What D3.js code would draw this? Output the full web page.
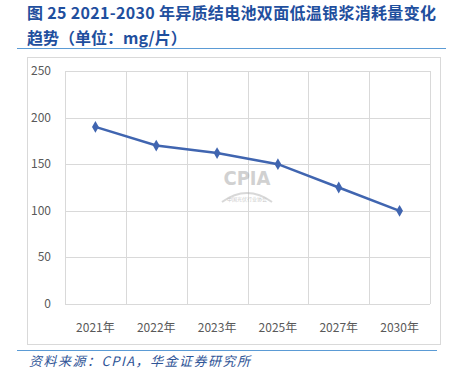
<!DOCTYPE html>
<html>
<head>
<meta charset="utf-8">
<script src="https://cdn.jsdelivr.net/npm/d3@7"></script>
<style>
  body { margin: 0; background: #fff; }
  svg { display: block; }
</style>
</head>
<body>
<div id="chart"></div>
<script>
// chart data
const years = ['2021年', '2022年', '2023年', '2025年', '2027年', '2030年'];
const silverUse = [190, 170, 162, 150, 125, 100];
const yTicks = [0, 50, 100, 150, 200, 250];

const W = 454, H = 369;
const svg = d3.select('#chart').append('svg')
  .attr('width', W)
  .attr('height', H);

const titleColor = '#1f4f9e';
const cjk = '"Noto Sans CJK SC", "Noto Sans", sans-serif';

// title
svg.append('text')
  .attr('x', 27).attr('y', 19)
  .attr('font-family', cjk)
  .attr('font-size', 16)
  .attr('font-weight', 'bold')
  .attr('fill', titleColor)
  .attr('textLength', 409)
  .text('图 25 2021-2030 年异质结电池双面低温银浆消耗量变化');
svg.append('text')
  .attr('x', 27).attr('y', 44)
  .attr('font-family', cjk)
  .attr('font-size', 16)
  .attr('font-weight', 'bold')
  .attr('fill', titleColor)
  .text('趋势（单位：mg/片）');

svg.append('line')
  .attr('x1', 17).attr('x2', 446)
  .attr('y1', 48.5).attr('y2', 48.5)
  .attr('stroke', '#5b9bd5').attr('stroke-width', 1.2);

// chart frame
svg.append('rect')
  .attr('x', 27.5).attr('y', 57.5)
  .attr('width', 413).attr('height', 287)
  .attr('fill', '#fff')
  .attr('stroke', '#d9d9d9');

const x = d3.scaleBand().domain(years).range([65, 430]);
const y = d3.scaleLinear().domain([0, 250]).range([304, 71]);

// horizontal grid
svg.append('g')
  .selectAll('line')
  .data(yTicks)
  .enter()
  .append('line')
  .attr('x1', 65).attr('x2', 430)
  .attr('y1', d => Math.round(y(d)) + 0.5)
  .attr('y2', d => Math.round(y(d)) + 0.5)
  .attr('stroke', '#d9d9d9');

// vertical grid at band edges
const edges = years.map(d => x(d)).concat([x.range()[1]]);
svg.append('g')
  .selectAll('line')
  .data(edges)
  .enter()
  .append('line')
  .attr('x1', d => Math.round(d) + 0.5)
  .attr('x2', d => Math.round(d) + 0.5)
  .attr('y1', y(250)).attr('y2', y(0))
  .attr('stroke', '#d9d9d9');

// y labels
svg.append('g')
  .selectAll('text')
  .data(yTicks)
  .enter()
  .append('text')
  .attr('x', 51)
  .attr('y', d => y(d) + 4)
  .attr('text-anchor', 'end')
  .attr('font-family', cjk)
  .attr('font-size', 12)
  .attr('fill', '#595959')
  .text(d => d);

// x labels
svg.append('g')
  .selectAll('text')
  .data(years)
  .enter()
  .append('text')
  .attr('x', d => x(d) + x.bandwidth() / 2)
  .attr('y', 332)
  .attr('text-anchor', 'middle')
  .attr('font-family', cjk)
  .attr('font-size', 12)
  .attr('fill', '#595959')
  .text(d => d);

// watermark
const wm = svg.append('g').attr('opacity', 0.45);
wm.append('text')
  .attr('x', 247).attr('y', 185)
  .attr('text-anchor', 'middle')
  .attr('font-family', '"DejaVu Sans Condensed", "DejaVu Sans", sans-serif')
  .attr('font-weight', 'bold')
  .attr('font-size', 20)
  .attr('fill', '#9a9a9a')
  .text('CPIA');
wm.append('path')
  .attr('d', 'M 222 202 Q 247 184 272 202')
  .attr('fill', 'none')
  .attr('stroke', '#aaa')
  .attr('stroke-width', 2);
wm.append('text')
  .attr('x', 247).attr('y', 201)
  .attr('text-anchor', 'middle')
  .attr('font-family', cjk)
  .attr('font-size', 5)
  .attr('fill', '#888')
  .text('中国光伏行业协会');

// line
const line = d3.line()
  .x((d, i) => x(years[i]) + x.bandwidth() / 2)
  .y(d => y(d));

svg.append('path')
  .datum(silverUse)
  .attr('d', line)
  .attr('fill', 'none')
  .attr('stroke', '#4065b0')
  .attr('stroke-width', 2.5);

svg.append('g')
  .selectAll('path')
  .data(silverUse)
  .enter()
  .append('path')
  .attr('transform', (d, i) => `translate(${x(years[i]) + x.bandwidth() / 2},${y(d)})`)
  .attr('d', d3.symbol().type(d3.symbolDiamond).size(40))
  .attr('fill', '#4065b0');

// bottom rule and source
svg.append('line')
  .attr('x1', 17).attr('x2', 437)
  .attr('y1', 350.5).attr('y2', 350.5)
  .attr('stroke', '#5b9bd5').attr('stroke-width', 1.2);

svg.append('text')
  .attr('x', 29).attr('y', 366)
  .attr('font-family', cjk)
  .attr('font-size', 13)
  .attr('font-style', 'italic')
  .attr('fill', '#2f5597')
  .attr('textLength', 221)
  .text('资料来源：CPIA，华金证券研究所');
</script>
</body>
</html>
